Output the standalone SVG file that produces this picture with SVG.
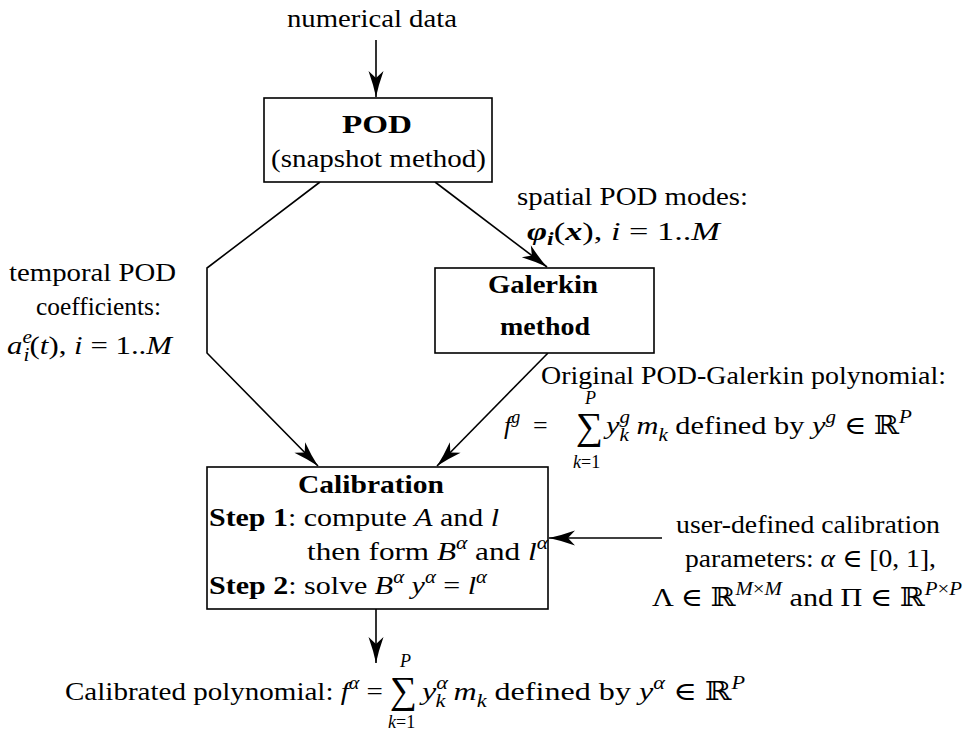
<svg xmlns="http://www.w3.org/2000/svg" width="966" height="733" viewBox="0 0 966 733">
<style>
text{font-family:"Liberation Serif",Tinos,"Times New Roman","DejaVu Serif","Noto Serif",serif;font-size:26px;fill:#000}
.b{font-weight:bold}
.i{font-style:italic}
.bi{font-weight:bold;font-style:italic}
.s{font-size:18px}
.sum{font-size:38px}
.box{fill:#fff;stroke:#000;stroke-width:1.6}
.c{fill:none;stroke:#000;stroke-width:1.6;marker-end:url(#ah)}
</style>
<defs>
<marker id="ah" markerUnits="userSpaceOnUse" markerWidth="28" markerHeight="16" viewBox="-27 -8 28 16" refX="0" refY="0" orient="auto">
<path d="M0,0 Q-12,-2.5 -26,-7.5 L-19,0 L-26,7.5 Q-12,2.5 0,0 Z" fill="#000"/>
</marker>
</defs>

<g id="connectors">
<path class="c" d="M376,40 L376,97"/>
<path class="c" d="M320,182 L207,268 L207,353 L318,466"/>
<path class="c" d="M435,182 L547,267"/>
<path class="c" d="M548,353 L437,466"/>
<path class="c" d="M662,538 L549,538"/>
<path class="c" d="M376,609 L376,663"/>
</g>

<g id="input-label">
<text x="287" y="27" textLength="170" lengthAdjust="spacingAndGlyphs">numerical data</text>
</g>

<g id="pod">
<rect class="box" x="264" y="98" width="228" height="84"/>
<text class="b" x="342" y="133" textLength="70" lengthAdjust="spacingAndGlyphs">POD</text>
<text x="271" y="167" textLength="215" lengthAdjust="spacingAndGlyphs">(snapshot method)</text>
</g>

<g id="spatial-label">
<text x="517" y="205" textLength="231" lengthAdjust="spacingAndGlyphs">spatial POD modes:</text>
<text x="527" y="240" textLength="193" lengthAdjust="spacingAndGlyphs"><tspan class="bi">φ</tspan><tspan class="bi s" dy="5">i</tspan><tspan dy="-5">(</tspan><tspan class="bi">x</tspan>), <tspan class="i">i</tspan> = 1..<tspan class="i">M</tspan></text>
</g>

<g id="temporal-label">
<text x="9" y="281" textLength="167" lengthAdjust="spacingAndGlyphs">temporal POD</text>
<text x="36" y="315" textLength="125" lengthAdjust="spacingAndGlyphs">coefficients:</text>
<text x="7" y="354" textLength="165" lengthAdjust="spacingAndGlyphs"><tspan class="i">a</tspan><tspan class="i s" dy="-11">e</tspan><tspan class="i s" dx="-7" dy="18">i</tspan><tspan dy="-7">(</tspan><tspan class="i">t</tspan>), <tspan class="i">i</tspan> = 1..<tspan class="i">M</tspan></text>
</g>

<g id="galerkin">
<rect class="box" x="435" y="268" width="219" height="85"/>
<text class="b" x="488" y="293" textLength="110" lengthAdjust="spacingAndGlyphs">Galerkin</text>
<text class="b" x="500" y="335" textLength="90" lengthAdjust="spacingAndGlyphs">method</text>
</g>

<g id="original-label">
<text x="541" y="384" textLength="405" lengthAdjust="spacingAndGlyphs">Original POD-Galerkin polynomial:</text>
<text x="504" y="434"><tspan class="i">f</tspan><tspan class="i s" dy="-11">g</tspan></text>
<text x="533" y="434">=</text>
<text class="sum" x="576" y="439">∑</text>
<text class="s i" x="585" y="404">P</text>
<text class="s" x="573" y="468"><tspan class="i">k</tspan>=1</text>
<text x="606" y="434" textLength="306" lengthAdjust="spacingAndGlyphs"><tspan class="i">y</tspan><tspan class="i s" dy="-11">g</tspan><tspan class="i s" dx="-9" dy="18">k</tspan><tspan class="i" dy="-7"> m</tspan><tspan class="i s" dy="7">k</tspan><tspan dy="-7"> defined by </tspan><tspan class="i">y</tspan><tspan class="i s" dy="-11">g</tspan><tspan dy="11"> ∈ ℝ</tspan><tspan class="i s" dy="-11">P</tspan></text>
</g>

<g id="calibration">
<rect class="box" x="207" y="467" width="341" height="142"/>
<text class="b" x="298" y="493" textLength="146" lengthAdjust="spacingAndGlyphs">Calibration</text>
<text x="209" y="526" textLength="290" lengthAdjust="spacingAndGlyphs"><tspan class="b">Step 1</tspan>: compute <tspan class="i">A</tspan> and <tspan class="i">l</tspan></text>
<text x="307" y="560" textLength="241" lengthAdjust="spacingAndGlyphs">then form <tspan class="i">B</tspan><tspan class="i s" dy="-11">α</tspan><tspan dy="11"> and </tspan><tspan class="i">l</tspan><tspan class="i s" dy="-11">α</tspan></text>
<text x="209" y="594" textLength="278" lengthAdjust="spacingAndGlyphs"><tspan class="b">Step 2</tspan>: solve <tspan class="i">B</tspan><tspan class="i s" dy="-11">α</tspan><tspan class="i" dy="11"> y</tspan><tspan class="i s" dy="-11">α</tspan><tspan dy="11"> = </tspan><tspan class="i">l</tspan><tspan class="i s" dy="-11">α</tspan></text>
</g>

<g id="user-label">
<text x="676" y="533" textLength="264" lengthAdjust="spacingAndGlyphs">user-defined calibration</text>
<text x="685" y="567" textLength="251" lengthAdjust="spacingAndGlyphs">parameters: <tspan class="i">α</tspan> ∈ [0, 1],</text>
<text x="652" y="606" textLength="310" lengthAdjust="spacingAndGlyphs">Λ ∈ ℝ<tspan class="i s" dy="-11">M</tspan><tspan class="s">×</tspan><tspan class="i s">M</tspan><tspan dy="11"> and Π ∈ ℝ</tspan><tspan class="i s" dy="-11">P</tspan><tspan class="s">×</tspan><tspan class="i s">P</tspan></text>
</g>

<g id="output-label">
<text x="65" y="700" textLength="318" lengthAdjust="spacingAndGlyphs">Calibrated polynomial: <tspan class="i">f</tspan><tspan class="i s" dy="-11">α</tspan><tspan dy="11"> =</tspan></text>
<text class="sum" x="390" y="703">∑</text>
<text class="s i" x="400" y="667">P</text>
<text class="s" x="388" y="728"><tspan class="i">k</tspan>=1</text>
<text x="422" y="700" textLength="323" lengthAdjust="spacingAndGlyphs"><tspan class="i">y</tspan><tspan class="i s" dy="-11">α</tspan><tspan class="i s" dx="-10" dy="18">k</tspan><tspan class="i" dy="-7"> m</tspan><tspan class="i s" dy="7">k</tspan><tspan dy="-7"> defined by </tspan><tspan class="i">y</tspan><tspan class="i s" dy="-11">α</tspan><tspan dy="11"> ∈ ℝ</tspan><tspan class="i s" dy="-11">P</tspan></text>
</g>
</svg>
